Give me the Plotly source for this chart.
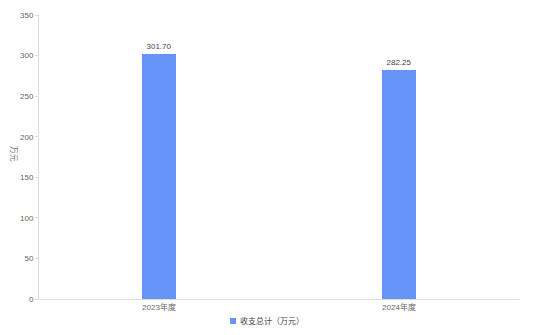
import plotly.graph_objects as go

categories = ["2023年度", "2024年度"]
values = [301.70, 282.25]
series_name = "收支总计（万元）"
y_ticks = [0, 50, 100, 150, 200, 250, 300, 350]
bar_color = "#6694F8"

fig = go.Figure()
fig.add_trace(go.Bar(
    x=categories, y=values, name=series_name,
    marker=dict(color=bar_color, line=dict(width=0)),
    width=0.14,
    text=[f"{v:.2f}" for v in values],
    textposition="outside",
    textfont=dict(size=8, color="#444", family="Liberation Sans, Arial"),
    cliponaxis=False,
    showlegend=False,
))

W, H = 534, 335
# manual legend (container pixel -> paper coords)
pl, pr, pt, pb = 39, 15, 15, 36
pw, ph = W - pl - pr, H - pt - pb
def px2paper(x, y):
    return (x - pl) / pw, (H - pb - y) / ph

lx0, ly0 = px2paper(230, 318)
lx1, ly1 = px2paper(236, 324)
tx, ty = px2paper(238, 321)

fig.update_layout(
    width=W, height=H,
    margin=dict(l=pl, r=pr, t=pt, b=pb, autoexpand=False),
    plot_bgcolor="white", paper_bgcolor="white",
    font=dict(family="Liberation Sans, Noto Sans CJK SC, Arial", size=8, color="#666"),
    bargap=0,
    showlegend=False,
    xaxis=dict(
        showline=True, linecolor="#ddd", linewidth=1,
        ticks="", showgrid=False,
        tickfont=dict(size=8, color="#666"),
    ),
    yaxis=dict(
        range=[0, 350], tickvals=y_ticks,
        showline=True, linecolor="#ddd", linewidth=1,
        ticks="outside", ticklen=3, tickcolor="#ddd",
        showgrid=False, zeroline=False,
        tickfont=dict(size=8, color="#666"),
    ),
    shapes=[dict(type="rect", xref="paper", yref="paper",
                 x0=lx0, x1=lx1, y0=ly1, y1=ly0,
                 fillcolor=bar_color, line=dict(width=0))],
    annotations=[
        dict(text="万元", xref="paper", yref="paper",
             x=-0.065, y=0.51, showarrow=False, textangle=90,
             font=dict(size=8, color="#666", family="Noto Sans CJK SC")),
        dict(text=series_name, xref="paper", yref="paper",
             x=tx, y=ty, xanchor="left", yanchor="middle", showarrow=False,
             font=dict(size=8, color="#444", family="Noto Sans CJK SC")),
    ],
)

fig.write_html("out.html")
